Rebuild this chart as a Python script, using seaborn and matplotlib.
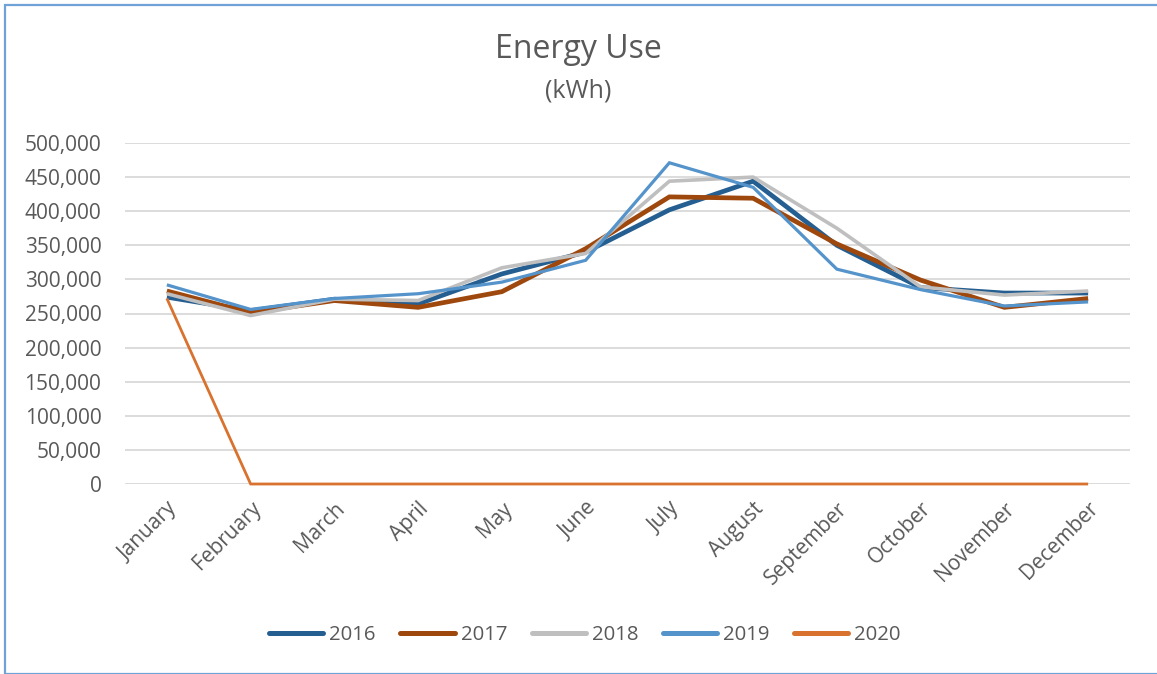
import matplotlib
matplotlib.use("Agg")
import matplotlib.pyplot as plt
import seaborn as sns
import pandas as pd
from matplotlib.patches import Rectangle
from matplotlib.ticker import FuncFormatter

MONTHS = ["January", "February", "March", "April", "May", "June", "July",
          "August", "September", "October", "November", "December"]
YEARS = ["2016", "2017", "2018", "2019", "2020"]

use_2016 = [274000, 254000, 271000, 264000, 308000, 340000, 402000, 444000, 350000, 288000, 280000, 280000]
use_2017 = [283000, 251000, 269000, 259000, 282000, 345000, 421000, 419000, 352000, 299000, 259000, 272000]
use_2018 = [279000, 247000, 271000, 269000, 317000, 338000, 444000, 450000, 375000, 289000, 277000, 283000]
use_2019 = [292000, 256000, 272000, 279000, 296000, 328000, 471000, 435000, 315000, 285000, 261000, 267000]
use_2020 = [272000, 0, 0, 0, 0, 0, 0, 0, 0, 0, 0, 0]

COLORS = {"2016": "#255E91", "2017": "#9E480E", "2018": "#BFBFBF",
          "2019": "#5593CB", "2020": "#D9722E"}
WIDTHS = {"2016": 3.4, "2017": 3.4, "2018": 2.6, "2019": 2.3, "2020": 2.0}
TEXT = "#595959"

df = pd.DataFrame({"month": MONTHS * 5,
                   "year": sum([[y] * 12 for y in YEARS], []),
                   "kwh": use_2016 + use_2017 + use_2018 + use_2019 + use_2020})
df["pos"] = df["month"].map({m: i for i, m in enumerate(MONTHS)})

sns.set_theme(style="white")
plt.rcParams["font.family"] = ["Open Sans", "DejaVu Sans"]

fig = plt.figure(figsize=(11.57, 6.74), dpi=100)
ax = fig.add_axes([125 / 1157, 1 - 484 / 674, 1005 / 1157, 341 / 674])

for yr in YEARS:
    sub = df[df["year"] == yr]
    sns.lineplot(data=sub, x="pos", y="kwh", ax=ax, color=COLORS[yr],
                 linewidth=WIDTHS[yr], label=yr, clip_on=False,
                 solid_joinstyle="miter", solid_capstyle="butt")

ax.set_xlim(-0.5, 11.5)
ax.set_ylim(0, 500000)
ax.set_yticks(range(0, 500001, 50000))
ax.yaxis.set_major_formatter(FuncFormatter(lambda v, p: f"{int(v):,}"))
ax.set_xticks(range(12))
ax.set_xticklabels(MONTHS, rotation=45, ha="right", rotation_mode="anchor")
ax.grid(axis="y", color="#D9D9D9", linewidth=1.3)
ax.set_axisbelow(True)
for s in ax.spines.values():
    s.set_visible(False)
ax.tick_params(axis="both", length=0, labelsize=15, labelcolor=TEXT)
ax.tick_params(axis="y", pad=17)
ax.tick_params(axis="x", pad=10)
ax.set_xlabel("")
ax.set_ylabel("")

handles, labels = ax.get_legend_handles_labels()
ax.get_legend().remove()
leg = fig.legend(handles, labels, loc="center", bbox_to_anchor=(585 / 1157, 1 - 635 / 674),
                 ncol=5, frameon=False, fontsize=14.7, handlelength=2.65,
                 handletextpad=0.3, columnspacing=1.2)
for t in leg.get_texts():
    t.set_color(TEXT)
for h in leg.get_lines():
    h.set_linewidth(3.6)
    h.set_solid_capstyle("round")

fig.text(0.5, 1 - 50 / 674, "Energy Use", ha="center", va="center", fontsize=23, color=TEXT)
fig.text(0.5, 1 - 91 / 674, "(kWh)", ha="center", va="center", fontsize=18, color=TEXT)

fig.patches.append(Rectangle((5.5 / 1157, 0.5 / 674), 1.2, 669 / 674,
                             transform=fig.transFigure, fill=False,
                             edgecolor="#6FA3D8", linewidth=1.6))

fig.savefig("out.png", dpi=100, facecolor="white")
